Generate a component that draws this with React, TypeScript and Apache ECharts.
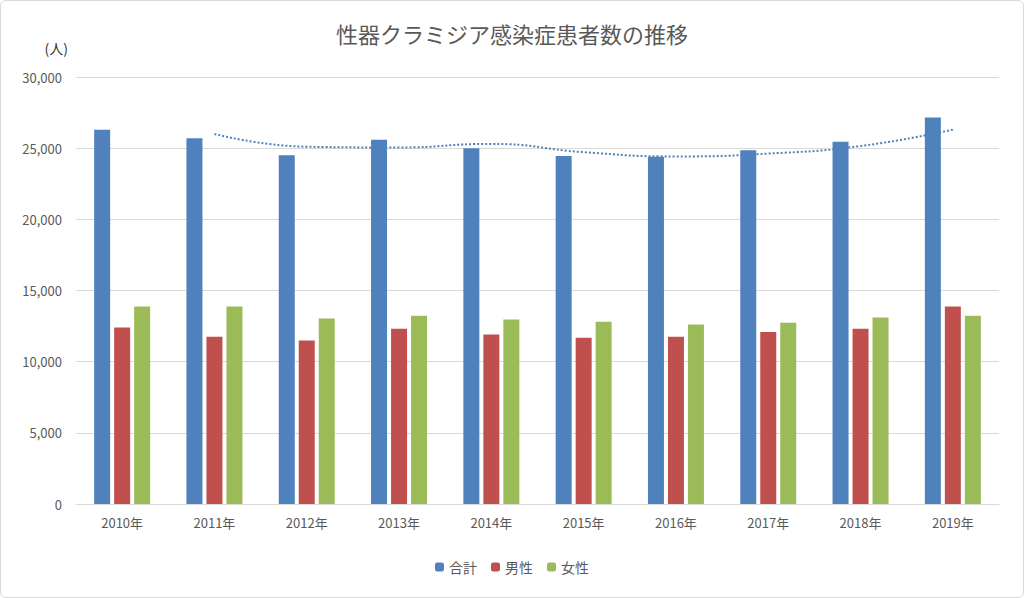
import React, { useRef, useEffect } from 'react';
import * as echarts from 'echarts';

const years = ['2010年', '2011年', '2012年', '2013年', '2014年', '2015年', '2016年', '2017年', '2018年', '2019年'];
const total = [26300, 25700, 24500, 25600, 25000, 24450, 24400, 24850, 25450, 27150];
const male = [12400, 11750, 11480, 12320, 11900, 11680, 11750, 12080, 12320, 13880];
const female = [13880, 13880, 13030, 13230, 12960, 12800, 12620, 12740, 13100, 13230];
// 2区間移動平均（合計）
const trend = [null, 26000, 25100, 25050, 25300, 24720, 24420, 24620, 25150, 26300];

const App: React.FC = () => {
  const ref = useRef<HTMLDivElement>(null);

  useEffect(() => {
    document.body.style.margin = '0';
    if (!ref.current) return;
    const chart = echarts.init(ref.current, undefined, { renderer: 'svg' });
    const font = '"Noto Sans CJK JP", sans-serif';
    chart.setOption({
      animation: false,
      textStyle: { fontFamily: font },
      title: {
        text: '性器クラミジア感染症患者数の推移',
        left: 'center',
        top: 16,
        textStyle: { fontSize: 22, fontWeight: 'normal', color: '#595959', fontFamily: font },
      },
      legend: {
        bottom: 18,
        itemWidth: 9,
        itemHeight: 9,
        itemGap: 14,
        data: ['合計', '男性', '女性'],
        textStyle: { fontSize: 14, color: '#595959' },
      },
      grid: { left: 75, right: 24, top: 76, bottom: 93 },
      xAxis: {
        type: 'category',
        data: years,
        axisTick: { show: false },
        axisLine: { lineStyle: { color: '#d9d9d9' } },
        axisLabel: { color: '#595959', fontSize: 13, margin: 12 },
      },
      yAxis: {
        type: 'value',
        name: '(人)',
        nameLocation: 'end',
        nameGap: 22,
        nameTextStyle: { color: '#333', fontSize: 14, align: 'right', padding: [0, 8, 0, 0] },
        min: 0,
        max: 30000,
        interval: 5000,
        axisLabel: { color: '#595959', fontSize: 13, margin: 14 },
        splitLine: { lineStyle: { color: '#d9d9d9' } },
      },
      series: [
        { name: '合計', type: 'bar', data: total, barWidth: 16, barGap: '25%', itemStyle: { color: '#4f81bd' } },
        { name: '男性', type: 'bar', data: male, barWidth: 16, barGap: '25%', itemStyle: { color: '#c0504d' } },
        { name: '女性', type: 'bar', data: female, barWidth: 16, barGap: '25%', itemStyle: { color: '#9bbb59' } },
        {
          name: 'trend',
          type: 'line',
          data: trend,
          smooth: true,
          symbol: 'none',
          lineStyle: { color: '#4f81bd', width: 2, type: 'dotted' },
        },
      ],
    });
    return () => chart.dispose();
  }, []);

  return (
    <div style={{ width: 1022, height: 596, border: '1px solid #d9d9d9', borderRadius: 6, background: '#fff' }}>
      <div ref={ref} style={{ width: 1022, height: 596 }} />
    </div>
  );
};

export default App;
